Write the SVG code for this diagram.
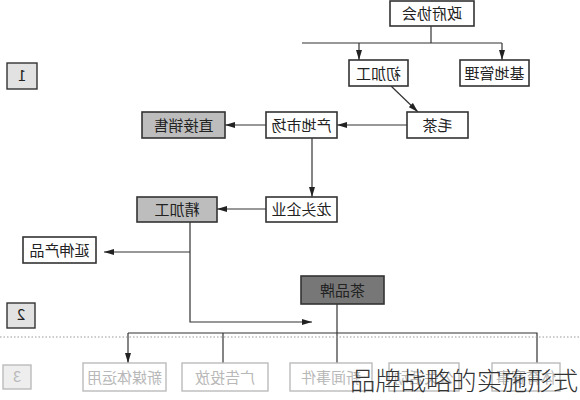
<svg xmlns="http://www.w3.org/2000/svg" width="580" height="400" viewBox="0 0 580 400">
<defs>
<style>
.box{fill:#fff;stroke:#333;stroke-width:1.6}
.gray{fill:#bdbdbd;stroke:#333;stroke-width:1.6}
.dark{fill:#777;stroke:#333;stroke-width:1.6}
.lab{fill:#e2e2e2;stroke:#333;stroke-width:1.4}
.fade{fill:#fff;stroke:#bbb;stroke-width:1.4}
.fadelab{fill:#eee;stroke:#bbb;stroke-width:1.4}
text{font-family:"Noto Sans CJK SC","Noto Sans",sans-serif;font-size:15px;fill:#222;text-anchor:middle}
.ft{fill:#b8b8b8}
.c{fill:none;stroke:#333;stroke-width:1.2}
.wm{font-size:25px;fill:#333;text-anchor:start;font-weight:300}
</style>
<marker id="a" viewBox="0 0 10 6" refX="10" refY="3" markerWidth="10" markerHeight="6" markerUnits="userSpaceOnUse" orient="auto">
<path d="M0,0 L10,3 L0,6 Z" fill="#222"/>
</marker>
</defs>
<rect width="580" height="400" fill="#fff"/>
<g id="connectors">
<path class="c" d="M431,26 V43"/>
<path class="c" d="M302,43 H502"/>
<path class="c" d="M359,43 V60" marker-end="url(#a)"/>
<path class="c" d="M502,43 V60" marker-end="url(#a)"/>
<path class="c" d="M391,86 L418,112" marker-end="url(#a)"/>
<path class="c" d="M407,125 H337" marker-end="url(#a)"/>
<path class="c" d="M266,125 H225" marker-end="url(#a)"/>
<path class="c" d="M312,138 V197" marker-end="url(#a)"/>
<path class="c" d="M266,209 H217" marker-end="url(#a)"/>
<path class="c" d="M190,222 V322 H312" marker-end="url(#a)"/>
<path class="c" d="M190,252 H104" marker-end="url(#a)"/>
<path class="c" d="M337,304 V363"/>
<path class="c" d="M128,333 H537 V363"/>
<path class="c" d="M128,333 V363" marker-end="url(#a)"/>
<path class="c" d="M223,333 V363"/>
<path fill="none" stroke="#999" stroke-width="1" stroke-dasharray="1.5 2" d="M0,337 H580"/>
</g>
<g id="n-zhengfu"><rect class="box" x="390" y="1" width="84" height="25"/><text transform="translate(432,19) scale(-1,1)">政府协会</text></g>
<g id="n-chujiagong"><rect class="box" x="349" y="60" width="59" height="26"/><text transform="translate(378.5,78.5) scale(-1,1)">初加工</text></g>
<g id="n-jidi"><rect class="box" x="460" y="60" width="69" height="26"/><text transform="translate(494.5,78.5) scale(-1,1)">基地管理</text></g>
<g id="n-maocha"><rect class="box" x="407" y="112" width="61" height="26"/><text transform="translate(437.5,130.5) scale(-1,1)">毛茶</text></g>
<g id="n-chandi"><rect class="box" x="266" y="112" width="71" height="26"/><text transform="translate(301.5,130.5) scale(-1,1)">产地市场</text></g>
<g id="n-zhijie"><rect class="gray" x="142" y="112" width="83" height="26"/><text transform="translate(183.5,130.5) scale(-1,1)">直接销售</text></g>
<g id="n-longtou"><rect class="box" x="266" y="197" width="71" height="25"/><text transform="translate(301.5,214.5) scale(-1,1)">龙头企业</text></g>
<g id="n-jingjiagong"><rect class="gray" x="137" y="197" width="80" height="25"/><text transform="translate(177,214.5) scale(-1,1)">精加工</text></g>
<g id="n-yanshen"><rect class="box" x="23" y="237" width="73" height="26"/><text transform="translate(59.5,255.5) scale(-1,1)">延伸产品</text></g>
<g id="n-pinpai"><rect class="dark" x="301" y="276" width="83" height="28"/><text transform="translate(342.5,295.5) scale(-1,1)">茶品牌</text></g>
<g id="l1"><rect class="lab" x="7" y="63" width="30" height="26"/><text transform="translate(22,81) scale(-1,1)">1</text></g>
<g id="l2"><rect class="lab" x="7" y="303" width="28" height="25"/><text transform="translate(21,320) scale(-1,1)">2</text></g>
<g id="l3"><rect class="fadelab" x="3" y="365" width="28" height="24"/><text class="ft" transform="translate(17,382) scale(-1,1)">3</text></g>
<g id="b1"><rect class="fade" x="83" y="363" width="83" height="28"/><text class="ft" transform="translate(124.5,382.5) scale(-1,1)">新媒体运用</text></g>
<g id="b2"><rect class="fade" x="182" y="363" width="86" height="28"/><text class="ft" transform="translate(225,382.5) scale(-1,1)">广告投放</text></g>
<g id="b3"><rect class="fade" x="290" y="363" width="82" height="28"/><text class="ft" transform="translate(331,382.5) scale(-1,1)">新闻事件</text></g>
<g id="b4"><rect class="fade" x="389" y="363" width="70" height="28"/><text class="ft" transform="translate(424,382.5) scale(-1,1)">公关活动</text></g>
<g id="b5"><rect class="fade" x="492" y="363" width="68" height="28"/><text class="ft" transform="translate(526,382.5) scale(-1,1)">体育赛事</text></g>
<text class="wm" x="350" y="390" textLength="228" lengthAdjust="spacingAndGlyphs">品牌战略的实施形式</text>
</svg>
